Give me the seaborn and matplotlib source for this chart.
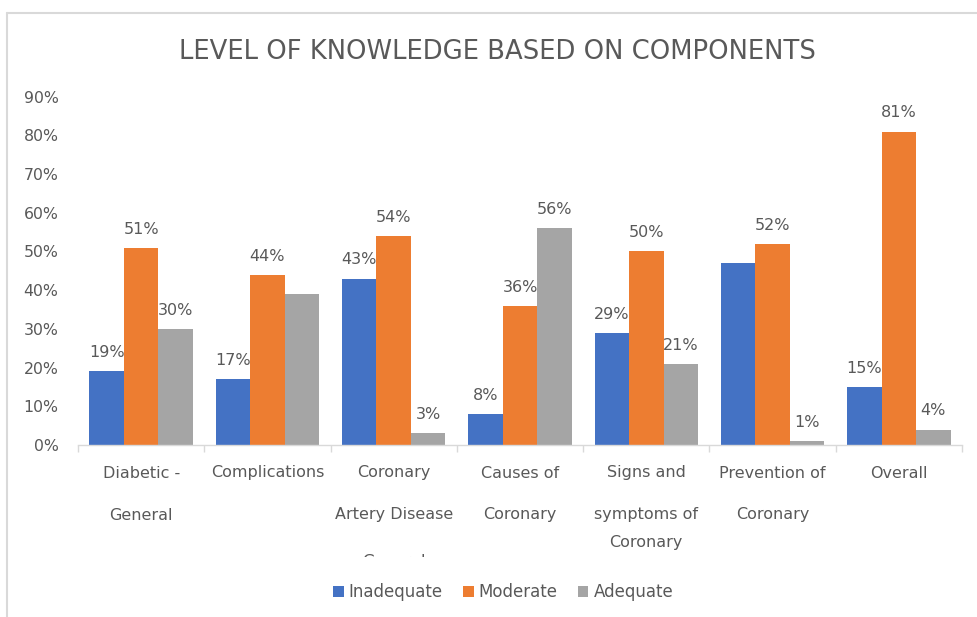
import matplotlib
matplotlib.use('Agg')
import matplotlib.pyplot as plt
import matplotlib.transforms as mtransforms
import numpy as np
import pandas as pd
import seaborn as sns
from matplotlib.lines import Line2D
from matplotlib.patches import Rectangle

# data
categories = ['Diabetic - General', 'Complications', 'Coronary Artery Disease General',
              'Causes of Coronary', 'Signs and symptoms of Coronary',
              'Prevention of Coronary', 'Overall']
series = ['Inadequate', 'Moderate', 'Adequate']
inadequate = [0.19, 0.17, 0.43, 0.08, 0.29, 0.47, 0.15]
moderate = [0.51, 0.44, 0.54, 0.36, 0.50, 0.52, 0.81]
adequate = [0.30, 0.39, 0.03, 0.56, 0.21, 0.01, 0.04]
# data labels as printed ('' where the chart shows none)
inadequate_labels = ['19%', '17%', '43%', '8%', '29%', '', '15%']
moderate_labels = ['51%', '44%', '54%', '36%', '50%', '52%', '81%']
adequate_labels = ['30%', '', '3%', '56%', '21%', '1%', '4%']
# wrapped category text as it appears under the axis
label_lines = [['Diabetic -', 'General'], ['Complications'],
               ['Coronary', 'Artery Disease', 'General'], ['Causes of', 'Coronary'],
               ['Signs and', 'symptoms of', 'Coronary'], ['Prevention of', 'Coronary'],
               ['Overall']]
y_ticks = [0, 0.1, 0.2, 0.3, 0.4, 0.5, 0.6, 0.7, 0.8, 0.9]

colors = ['#4472C4', '#ED7D31', '#A5A5A5']
text_color = '#595959'
W, H = 977, 617

df = pd.DataFrame({
    'component': categories * 3,
    'level': [s for s in series for _ in categories],
    'share': inadequate + moderate + adequate,
})

sns.set_theme(style='white')
plt.rcParams['font.family'] = ['DejaVu Sans']

fig = plt.figure(figsize=(W / 100, H / 100), dpi=100)
ax = fig.add_axes([78 / W, 1 - 445 / H, (962 - 78) / W, (445 - 96.7) / H])

sns.barplot(data=df, x='component', y='share', hue='level', hue_order=series,
            order=categories, palette=colors, width=0.82, saturation=1,
            linewidth=0, ax=ax)

for container, labels in zip(ax.containers, [inadequate_labels, moderate_labels, adequate_labels]):
    ax.bar_label(container, labels=labels, padding=8, fontsize=11.5, color=text_color)

handles, labels = ax.get_legend_handles_labels()
ax.get_legend().remove()

# axes styling
ax.set_ylim(0, 0.9)
ax.set_xlim(-0.5, len(categories) - 0.5)
ax.set_yticks(y_ticks)
ax.set_yticklabels([f'{round(v * 100)}%' for v in y_ticks], color=text_color, fontsize=11.3)
ax.tick_params(axis='y', length=0, pad=14)
ax.set_xticks(range(len(categories)))
ax.set_xticklabels([''] * len(categories))
ax.set_xticks(np.arange(-0.5, len(categories), 1), minor=True)
ax.tick_params(axis='x', which='major', length=0)
ax.tick_params(axis='x', which='minor', bottom=True, length=5, width=1, color='#D9D9D9')
ax.set_xlabel('')
ax.set_ylabel('')
for side in ['left', 'top', 'right']:
    ax.spines[side].set_visible(False)
ax.spines['bottom'].set_color('#D9D9D9')
ax.spines['bottom'].set_linewidth(1)

# category labels, one line at a time (the third line of one label is cut off)
blend = mtransforms.blended_transform_factory(ax.transData, fig.transFigure)
line_y = [473, 515, 542]
clip = Rectangle((0, 1 - 557 / H), 1, 557 / H, transform=fig.transFigure)
for i, lines in enumerate(label_lines):
    for j, line in enumerate(lines):
        y = line_y[j]
        if i == 2 and j == 2:
            y = 562
        t = ax.text(i, 1 - y / H, line, transform=blend, ha='center', va='center',
                    fontsize=11.5, color=text_color, clip_on=True)
        t.set_clip_path(clip)

fig.text(497.5 / W, 1 - 51.7 / H, 'LEVEL OF KNOWLEDGE BASED ON COMPONENTS',
         ha='center', va='center', fontsize=18.6, color=text_color)

fig.legend(handles, labels, loc='center', bbox_to_anchor=(503 / W, 1 - 592 / H),
           ncol=3, frameon=False, fontsize=12, handlelength=0.65, handleheight=0.65,
           handletextpad=0.3, columnspacing=1.2, labelcolor=text_color)

# chart area border
fig.add_artist(Line2D([7 / W, 7 / W], [0, 1 - 13 / H], transform=fig.transFigure,
                      color='#D9D9D9', lw=1.5))
fig.add_artist(Line2D([7 / W, 1], [1 - 13 / H, 1 - 13 / H], transform=fig.transFigure,
                      color='#D9D9D9', lw=1.5))

fig.savefig('out.png', dpi=100)
